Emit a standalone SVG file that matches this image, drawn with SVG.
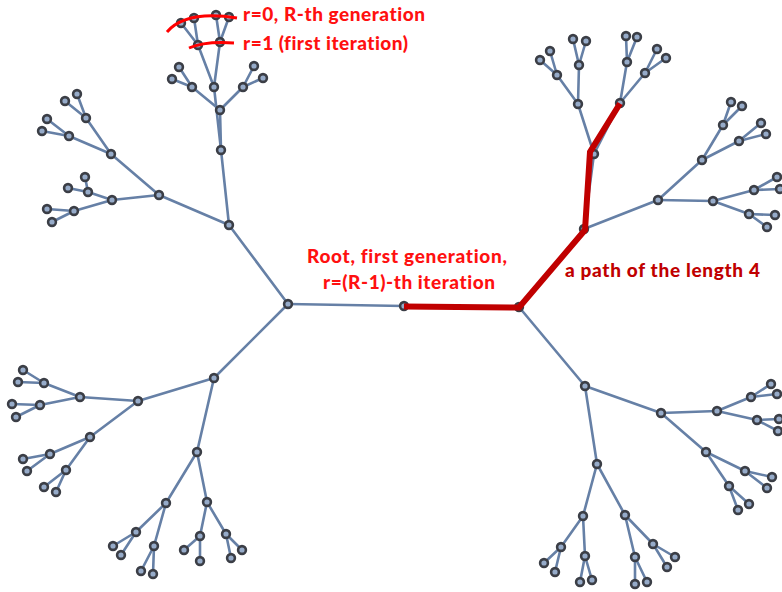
<svg xmlns="http://www.w3.org/2000/svg" width="782" height="592" viewBox="0 0 782 592">
<style>
.e line{stroke:#6680a6;stroke-width:2.6;stroke-linecap:round}
.n circle{fill:#96abc9;stroke:#3b3e46;stroke-width:2.6}
.lbl{font-family:Lato,"Liberation Sans",sans-serif;font-weight:900;font-size:19px;font-variant-ligatures:none}
.red{fill:#ff1010}
.dred{fill:#c00000}
</style>
<rect width="782" height="592" fill="#ffffff"/>
<g id="connectors" class="e">
<line x1="404" y1="306" x2="288" y2="304"/><line x1="404" y1="306" x2="519" y2="307"/>
<line x1="288" y1="304" x2="229" y2="225"/><line x1="288" y1="304" x2="214" y2="378"/>
<line x1="229" y1="225" x2="221" y2="150"/><line x1="229" y1="225" x2="159" y2="195"/>
<line x1="221" y1="150" x2="220" y2="110"/><line x1="221" y1="150" x2="214" y2="87"/>
<line x1="220" y1="110" x2="192" y2="87"/><line x1="220" y1="110" x2="243" y2="87"/>
<line x1="192" y1="87" x2="179" y2="67"/><line x1="192" y1="87" x2="172" y2="79"/>
<line x1="243" y1="87" x2="254" y2="66"/><line x1="243" y1="87" x2="263" y2="78"/>
<line x1="214" y1="87" x2="198" y2="45"/><line x1="214" y1="87" x2="220" y2="42"/>
<line x1="198" y1="45" x2="181" y2="23"/><line x1="198" y1="45" x2="194" y2="18"/>
<line x1="220" y1="42" x2="216" y2="15"/><line x1="220" y1="42" x2="229" y2="17"/>
<line x1="159" y1="195" x2="111" y2="154"/><line x1="159" y1="195" x2="112" y2="200"/>
<line x1="111" y1="154" x2="86" y2="118"/><line x1="111" y1="154" x2="69" y2="136"/>
<line x1="86" y1="118" x2="65" y2="101"/><line x1="86" y1="118" x2="77" y2="94"/>
<line x1="69" y1="136" x2="47" y2="119"/><line x1="69" y1="136" x2="42" y2="131"/>
<line x1="112" y1="200" x2="88" y2="192"/><line x1="112" y1="200" x2="74" y2="211"/>
<line x1="88" y1="192" x2="85" y2="177"/><line x1="88" y1="192" x2="68" y2="188"/>
<line x1="74" y1="211" x2="47" y2="209"/><line x1="74" y1="211" x2="52" y2="222"/>
<line x1="214" y1="378" x2="138" y2="401"/><line x1="214" y1="378" x2="197" y2="452"/>
<line x1="138" y1="401" x2="80" y2="397"/><line x1="138" y1="401" x2="90" y2="437"/>
<line x1="80" y1="397" x2="44" y2="383"/><line x1="80" y1="397" x2="40" y2="405"/>
<line x1="44" y1="383" x2="23" y2="370"/><line x1="44" y1="383" x2="18" y2="382"/>
<line x1="40" y1="405" x2="12" y2="404"/><line x1="40" y1="405" x2="16" y2="417"/>
<line x1="90" y1="437" x2="50" y2="454"/><line x1="90" y1="437" x2="66" y2="470"/>
<line x1="50" y1="454" x2="23" y2="459"/><line x1="50" y1="454" x2="27" y2="471"/>
<line x1="66" y1="470" x2="44" y2="487"/><line x1="66" y1="470" x2="56" y2="492"/>
<line x1="197" y1="452" x2="166" y2="503"/><line x1="197" y1="452" x2="207" y2="502"/>
<line x1="166" y1="503" x2="136" y2="532"/><line x1="166" y1="503" x2="154" y2="546"/>
<line x1="136" y1="532" x2="113" y2="546"/><line x1="136" y1="532" x2="121" y2="555"/>
<line x1="154" y1="546" x2="141" y2="571"/><line x1="154" y1="546" x2="153" y2="574"/>
<line x1="207" y1="502" x2="200" y2="536"/><line x1="207" y1="502" x2="226" y2="534"/>
<line x1="200" y1="536" x2="184" y2="550"/><line x1="200" y1="536" x2="200" y2="561"/>
<line x1="226" y1="534" x2="231" y2="558"/><line x1="226" y1="534" x2="242" y2="550"/>
<line x1="519" y1="307" x2="584" y2="229"/><line x1="519" y1="307" x2="585" y2="386"/>
<line x1="584" y1="229" x2="594" y2="154"/><line x1="584" y1="229" x2="658" y2="200"/>
<line x1="594" y1="154" x2="578" y2="104"/><line x1="594" y1="154" x2="620" y2="103"/>
<line x1="578" y1="104" x2="557" y2="75"/><line x1="578" y1="104" x2="579" y2="65"/>
<line x1="557" y1="75" x2="540" y2="60"/><line x1="557" y1="75" x2="550" y2="51"/>
<line x1="579" y1="65" x2="573" y2="39"/><line x1="579" y1="65" x2="586" y2="41"/>
<line x1="620" y1="103" x2="627" y2="62"/><line x1="620" y1="103" x2="645" y2="73"/>
<line x1="627" y1="62" x2="626" y2="36"/><line x1="627" y1="62" x2="637" y2="37"/>
<line x1="645" y1="73" x2="657" y2="49"/><line x1="645" y1="73" x2="666" y2="58"/>
<line x1="658" y1="200" x2="702" y2="160"/><line x1="658" y1="200" x2="713" y2="201"/>
<line x1="702" y1="160" x2="723" y2="125"/><line x1="702" y1="160" x2="739" y2="141"/>
<line x1="723" y1="125" x2="731" y2="102"/><line x1="723" y1="125" x2="742" y2="106"/>
<line x1="739" y1="141" x2="761" y2="123"/><line x1="739" y1="141" x2="766" y2="134"/>
<line x1="713" y1="201" x2="754" y2="190"/><line x1="713" y1="201" x2="749" y2="214"/>
<line x1="754" y1="190" x2="777" y2="177"/><line x1="754" y1="190" x2="780" y2="189"/>
<line x1="749" y1="214" x2="775" y2="215"/><line x1="749" y1="214" x2="767" y2="227"/>
<line x1="585" y1="386" x2="661" y2="413"/><line x1="585" y1="386" x2="597" y2="464"/>
<line x1="661" y1="413" x2="717" y2="411"/><line x1="661" y1="413" x2="706" y2="452"/>
<line x1="717" y1="411" x2="751" y2="397"/><line x1="717" y1="411" x2="757" y2="420"/>
<line x1="751" y1="397" x2="771" y2="384"/><line x1="751" y1="397" x2="777" y2="394"/>
<line x1="757" y1="420" x2="779" y2="419"/><line x1="757" y1="420" x2="778" y2="431"/>
<line x1="706" y1="452" x2="745" y2="471"/><line x1="706" y1="452" x2="729" y2="486"/>
<line x1="745" y1="471" x2="772" y2="477"/><line x1="745" y1="471" x2="767" y2="488"/>
<line x1="729" y1="486" x2="749" y2="504"/><line x1="729" y1="486" x2="738" y2="510"/>
<line x1="597" y1="464" x2="583" y2="516"/><line x1="597" y1="464" x2="625" y2="515"/>
<line x1="583" y1="516" x2="561" y2="547"/><line x1="583" y1="516" x2="585" y2="556"/>
<line x1="561" y1="547" x2="544" y2="563"/><line x1="561" y1="547" x2="555" y2="572"/>
<line x1="585" y1="556" x2="580" y2="582"/><line x1="585" y1="556" x2="592" y2="580"/>
<line x1="625" y1="515" x2="653" y2="544"/><line x1="625" y1="515" x2="635" y2="557"/>
<line x1="653" y1="544" x2="675" y2="557"/><line x1="653" y1="544" x2="667" y2="567"/>
<line x1="635" y1="557" x2="635" y2="584"/><line x1="635" y1="557" x2="647" y2="582"/>
</g>
<g id="nodes" class="n">
<g id="n0"><circle cx="404" cy="306" r="3.9"/></g>
<g id="n1"><circle cx="288" cy="304" r="3.9"/></g>
<g id="n2"><circle cx="519" cy="307" r="3.9"/></g>
<g id="n3"><circle cx="229" cy="225" r="3.9"/></g>
<g id="n4"><circle cx="214" cy="378" r="3.9"/></g>
<g id="n5"><circle cx="221" cy="150" r="3.9"/></g>
<g id="n6"><circle cx="159" cy="195" r="3.9"/></g>
<g id="n7"><circle cx="220" cy="110" r="3.9"/></g>
<g id="n8"><circle cx="214" cy="87" r="3.9"/></g>
<g id="n9"><circle cx="192" cy="87" r="3.9"/></g>
<g id="n10"><circle cx="243" cy="87" r="3.9"/></g>
<g id="n11"><circle cx="179" cy="67" r="3.9"/></g>
<g id="n12"><circle cx="172" cy="79" r="3.9"/></g>
<g id="n13"><circle cx="254" cy="66" r="3.9"/></g>
<g id="n14"><circle cx="263" cy="78" r="3.9"/></g>
<g id="n15"><circle cx="198" cy="45" r="3.9"/></g>
<g id="n16"><circle cx="220" cy="42" r="3.9"/></g>
<g id="n17"><circle cx="181" cy="23" r="3.9"/></g>
<g id="n18"><circle cx="194" cy="18" r="3.9"/></g>
<g id="n19"><circle cx="216" cy="15" r="3.9"/></g>
<g id="n20"><circle cx="229" cy="17" r="3.9"/></g>
<g id="n21"><circle cx="111" cy="154" r="3.9"/></g>
<g id="n22"><circle cx="112" cy="200" r="3.9"/></g>
<g id="n23"><circle cx="86" cy="118" r="3.9"/></g>
<g id="n24"><circle cx="69" cy="136" r="3.9"/></g>
<g id="n25"><circle cx="65" cy="101" r="3.9"/></g>
<g id="n26"><circle cx="77" cy="94" r="3.9"/></g>
<g id="n27"><circle cx="47" cy="119" r="3.9"/></g>
<g id="n28"><circle cx="42" cy="131" r="3.9"/></g>
<g id="n29"><circle cx="88" cy="192" r="3.9"/></g>
<g id="n30"><circle cx="74" cy="211" r="3.9"/></g>
<g id="n31"><circle cx="85" cy="177" r="3.9"/></g>
<g id="n32"><circle cx="68" cy="188" r="3.9"/></g>
<g id="n33"><circle cx="47" cy="209" r="3.9"/></g>
<g id="n34"><circle cx="52" cy="222" r="3.9"/></g>
<g id="n35"><circle cx="138" cy="401" r="3.9"/></g>
<g id="n36"><circle cx="197" cy="452" r="3.9"/></g>
<g id="n37"><circle cx="80" cy="397" r="3.9"/></g>
<g id="n38"><circle cx="90" cy="437" r="3.9"/></g>
<g id="n39"><circle cx="44" cy="383" r="3.9"/></g>
<g id="n40"><circle cx="40" cy="405" r="3.9"/></g>
<g id="n41"><circle cx="23" cy="370" r="3.9"/></g>
<g id="n42"><circle cx="18" cy="382" r="3.9"/></g>
<g id="n43"><circle cx="12" cy="404" r="3.9"/></g>
<g id="n44"><circle cx="16" cy="417" r="3.9"/></g>
<g id="n45"><circle cx="50" cy="454" r="3.9"/></g>
<g id="n46"><circle cx="66" cy="470" r="3.9"/></g>
<g id="n47"><circle cx="23" cy="459" r="3.9"/></g>
<g id="n48"><circle cx="27" cy="471" r="3.9"/></g>
<g id="n49"><circle cx="44" cy="487" r="3.9"/></g>
<g id="n50"><circle cx="56" cy="492" r="3.9"/></g>
<g id="n51"><circle cx="166" cy="503" r="3.9"/></g>
<g id="n52"><circle cx="207" cy="502" r="3.9"/></g>
<g id="n53"><circle cx="136" cy="532" r="3.9"/></g>
<g id="n54"><circle cx="154" cy="546" r="3.9"/></g>
<g id="n55"><circle cx="113" cy="546" r="3.9"/></g>
<g id="n56"><circle cx="121" cy="555" r="3.9"/></g>
<g id="n57"><circle cx="141" cy="571" r="3.9"/></g>
<g id="n58"><circle cx="153" cy="574" r="3.9"/></g>
<g id="n59"><circle cx="200" cy="536" r="3.9"/></g>
<g id="n60"><circle cx="226" cy="534" r="3.9"/></g>
<g id="n61"><circle cx="184" cy="550" r="3.9"/></g>
<g id="n62"><circle cx="200" cy="561" r="3.9"/></g>
<g id="n63"><circle cx="231" cy="558" r="3.9"/></g>
<g id="n64"><circle cx="242" cy="550" r="3.9"/></g>
<g id="n65"><circle cx="584" cy="229" r="3.9"/></g>
<g id="n66"><circle cx="585" cy="386" r="3.9"/></g>
<g id="n67"><circle cx="594" cy="154" r="3.9"/></g>
<g id="n68"><circle cx="658" cy="200" r="3.9"/></g>
<g id="n69"><circle cx="578" cy="104" r="3.9"/></g>
<g id="n70"><circle cx="620" cy="103" r="3.9"/></g>
<g id="n71"><circle cx="557" cy="75" r="3.9"/></g>
<g id="n72"><circle cx="579" cy="65" r="3.9"/></g>
<g id="n73"><circle cx="540" cy="60" r="3.9"/></g>
<g id="n74"><circle cx="550" cy="51" r="3.9"/></g>
<g id="n75"><circle cx="573" cy="39" r="3.9"/></g>
<g id="n76"><circle cx="586" cy="41" r="3.9"/></g>
<g id="n77"><circle cx="627" cy="62" r="3.9"/></g>
<g id="n78"><circle cx="645" cy="73" r="3.9"/></g>
<g id="n79"><circle cx="626" cy="36" r="3.9"/></g>
<g id="n80"><circle cx="637" cy="37" r="3.9"/></g>
<g id="n81"><circle cx="657" cy="49" r="3.9"/></g>
<g id="n82"><circle cx="666" cy="58" r="3.9"/></g>
<g id="n83"><circle cx="702" cy="160" r="3.9"/></g>
<g id="n84"><circle cx="713" cy="201" r="3.9"/></g>
<g id="n85"><circle cx="723" cy="125" r="3.9"/></g>
<g id="n86"><circle cx="739" cy="141" r="3.9"/></g>
<g id="n87"><circle cx="731" cy="102" r="3.9"/></g>
<g id="n88"><circle cx="742" cy="106" r="3.9"/></g>
<g id="n89"><circle cx="761" cy="123" r="3.9"/></g>
<g id="n90"><circle cx="766" cy="134" r="3.9"/></g>
<g id="n91"><circle cx="754" cy="190" r="3.9"/></g>
<g id="n92"><circle cx="749" cy="214" r="3.9"/></g>
<g id="n93"><circle cx="777" cy="177" r="3.9"/></g>
<g id="n94"><circle cx="780" cy="189" r="3.9"/></g>
<g id="n95"><circle cx="775" cy="215" r="3.9"/></g>
<g id="n96"><circle cx="767" cy="227" r="3.9"/></g>
<g id="n97"><circle cx="661" cy="413" r="3.9"/></g>
<g id="n98"><circle cx="597" cy="464" r="3.9"/></g>
<g id="n99"><circle cx="717" cy="411" r="3.9"/></g>
<g id="n100"><circle cx="706" cy="452" r="3.9"/></g>
<g id="n101"><circle cx="751" cy="397" r="3.9"/></g>
<g id="n102"><circle cx="757" cy="420" r="3.9"/></g>
<g id="n103"><circle cx="771" cy="384" r="3.9"/></g>
<g id="n104"><circle cx="777" cy="394" r="3.9"/></g>
<g id="n105"><circle cx="779" cy="419" r="3.9"/></g>
<g id="n106"><circle cx="778" cy="431" r="3.9"/></g>
<g id="n107"><circle cx="745" cy="471" r="3.9"/></g>
<g id="n108"><circle cx="729" cy="486" r="3.9"/></g>
<g id="n109"><circle cx="772" cy="477" r="3.9"/></g>
<g id="n110"><circle cx="767" cy="488" r="3.9"/></g>
<g id="n111"><circle cx="749" cy="504" r="3.9"/></g>
<g id="n112"><circle cx="738" cy="510" r="3.9"/></g>
<g id="n113"><circle cx="583" cy="516" r="3.9"/></g>
<g id="n114"><circle cx="625" cy="515" r="3.9"/></g>
<g id="n115"><circle cx="561" cy="547" r="3.9"/></g>
<g id="n116"><circle cx="585" cy="556" r="3.9"/></g>
<g id="n117"><circle cx="544" cy="563" r="3.9"/></g>
<g id="n118"><circle cx="555" cy="572" r="3.9"/></g>
<g id="n119"><circle cx="580" cy="582" r="3.9"/></g>
<g id="n120"><circle cx="592" cy="580" r="3.9"/></g>
<g id="n121"><circle cx="653" cy="544" r="3.9"/></g>
<g id="n122"><circle cx="635" cy="557" r="3.9"/></g>
<g id="n123"><circle cx="675" cy="557" r="3.9"/></g>
<g id="n124"><circle cx="667" cy="567" r="3.9"/></g>
<g id="n125"><circle cx="635" cy="584" r="3.9"/></g>
<g id="n126"><circle cx="647" cy="582" r="3.9"/></g>
</g>
<g id="highlight">
<path d="M404,306.5 L519,307.5 L585,230 L590,152 L620,103.5" fill="none" stroke="#c00000" stroke-width="6"/>
<path d="M167,32 Q186,10 237,18" fill="none" stroke="#ff0000" stroke-width="3"/>
<path d="M189,48 Q205,41 234,43" fill="none" stroke="#ff0000" stroke-width="3"/>
</g>
<g id="labels" class="lbl">
<text class="red" x="243" y="21" textLength="182">r=0, R-th generation</text>
<text class="red" x="243" y="50" textLength="165">r=1 (first iteration)</text>
<text class="red" x="307" y="263" textLength="200">Root, first generation,</text>
<text class="red" x="323" y="289" textLength="172">r=(R-1)-th iteration</text>
<text class="dred" x="565" y="277" textLength="195">a path of the length 4</text>
</g>
</svg>
